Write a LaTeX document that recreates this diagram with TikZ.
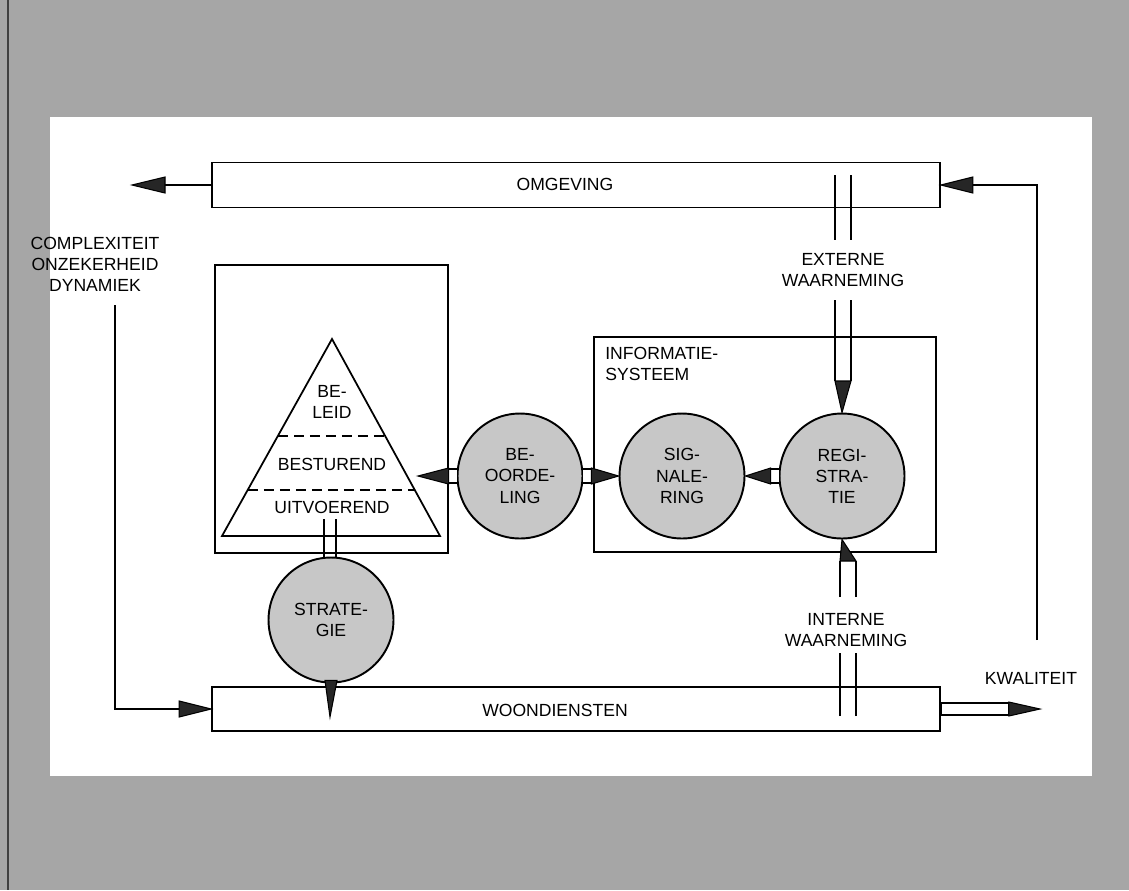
\documentclass[tikz,border=0pt]{standalone}
\usepackage{fontspec}
\setmainfont{Liberation Sans}
\usetikzlibrary{calc}
\begin{document}
\begin{tikzpicture}[x=0.02cm,y=-0.02cm,
  ln/.style={line width=1pt},
  box/.style={draw,line width=1pt,fill=white,rectangle,inner sep=0pt},
  disc/.style={circle,draw,line width=1.1pt,fill=black!22,minimum size=2.5cm,inner sep=0pt,align=center},
  lbl/.style={align=center,inner sep=0pt},
  head/.style={draw,line width=0.6pt,fill=black!85,line join=miter},
  shaft/.style={draw,line width=0.8pt,fill=white},
  twin/.style={line width=1.1pt},
  dashline/.style={line width=1.1pt,dash pattern=on 0.2cm off 0.12cm},
]
\useasboundingbox (0,0) rectangle (1129,890);
% frame
\fill[black!35] (0,0) rectangle (1129,890);
\draw[black!75,line width=1pt] (8,0) -- (8,890);
\fill[white] (50,117) rectangle (1092,776);

% boxes
\node[box,minimum width=14.56cm,minimum height=0.9cm] (omg) at (576,185) {};
\node[box,minimum width=14.56cm,minimum height=0.88cm] (woon) at (576,709) {};
\node[box,minimum width=4.66cm,minimum height=5.76cm] (mgmt) at (331.5,409) {};
\node[box,minimum width=6.84cm,minimum height=4.3cm] (info) at (765,444.5) {};

% pyramid
\coordinate (apex) at (332,339);
\coordinate (bl) at (222,536);
\coordinate (br) at (440,536);
\draw[ln,line join=miter] (apex) -- (br) -- (bl) -- cycle;
\draw[dashline] (278,436) -- (385,436);
\draw[dashline] (248,490) -- (414,490);

% labels
\node[lbl] (omgT) at (565,184) {OMGEVING};
\node[lbl] (woonT) at (555,710) {WOONDIENSTEN};
\node[lbl] (cplxT) at (95,264) {COMPLEXITEIT\\ONZEKERHEID\\DYNAMIEK};
\node[lbl] (extT) at (843,270) {EXTERNE\\WAARNEMING};
\node[lbl] (intT) at (846,630) {INTERNE\\WAARNEMING};
\node[lbl] (kwT) at (1031,678) {KWALITEIT};
\node[lbl,anchor=west,align=left] (infoT) at (605,364) {INFORMATIE-\\SYSTEEM};
\node[lbl] (beleid) at (332,402) {BE-\\LEID};
\node[lbl] (best) at (332,464) {BESTUREND};
\node[lbl] (uitv) at (332,507) {UITVOEREND};

% coordinates for free ends
\coordinate (ext1) at (843,175);
\coordinate (ext2) at (843,240);
\coordinate (ext3) at (843,300);
\coordinate (ext4) at (843,381);
\coordinate (int1) at (848,716);
\coordinate (int2) at (848,653);
\coordinate (int3) at (848,597);
\coordinate (int4) at (848,561);
\coordinate (triB) at (330,519);
\coordinate (strTop) at (330,562);
\coordinate (triR) at (418,476);
\coordinate (omgOut) at (132,185);
\coordinate (kwTop) at (1037,640);
\coordinate (cplx) at (115,305);
\coordinate (kwTip) at (1040,709);
\coordinate (woonIn) at (330,717);

% twin lines
\foreach \s in {-0.16cm,0.16cm}{
  \draw[twin] ([xshift=\s]ext1) -- ([xshift=\s]ext2);
  \draw[twin] ([xshift=\s]ext3) -- ([xshift=\s]ext4);
  \draw[twin] ([xshift=\s]int1) -- ([xshift=\s]int2);
  \draw[twin] ([xshift=\s]int3) -- ([xshift=\s]int4);
}
\foreach \s in {-0.12cm,0.12cm}{
  \draw[twin] ([xshift=\s]triB) -- ([xshift=\s]strTop);
}

% circles
\node[disc] (beo) at (520,476) {BE-\\OORDE-\\LING};
\node[disc] (sig) at (682,476) {SIG-\\NALE-\\RING};
\node[disc] (reg) at (842,476) {REGI-\\STRA-\\TIE};
\node[disc] (str) at (331,620) {STRATE-\\GIE};

% pipe arrows between circles
\draw[shaft] ($(beo.west)+(1,-7)$) rectangle ($(beo.west)+(-8,7)$);
\draw[head] ($(beo.west)+(-8,-8)$) -- ($(beo.west)+(-8,8)$) -- (triR) -- cycle;
\draw[shaft] ($(beo.east)+(-1,-7)$) rectangle ($(beo.east)+(8,7)$);
\draw[head] ($(beo.east)+(8,-8)$) -- ($(beo.east)+(8,8)$) -- (sig.west) -- cycle;
\draw[shaft] ($(reg.west)+(1,-7)$) rectangle ($(reg.west)+(-8,7)$);
\draw[head] ($(reg.west)+(-8,-8)$) -- ($(reg.west)+(-8,8)$) -- (sig.east) -- cycle;

% external / internal observation heads
\draw[head] ([xshift=-0.16cm]ext4) -- ([xshift=0.16cm]ext4) -- (reg.north) -- cycle;
\draw[head] ([xshift=-0.16cm]int4) -- ([xshift=0.16cm]int4) -- (reg.south) -- cycle;

% strategy wedge
\draw[head] ($(str.south)+(-6,-3)$) -- ($(str.south)+(6,-3)$) -- (woonIn) -- cycle;

% environment out arrow
\draw[ln] (omg.west) -- ($(omgOut)+(33,0)$);
\draw[head] ($(omgOut)+(33,-8)$) -- ($(omgOut)+(33,8)$) -- (omgOut) -- cycle;

% quality loop back to environment
\draw[ln] (kwTop) |- ($(omg.east)+(32,0)$);
\draw[head] ($(omg.east)+(32,-8)$) -- ($(omg.east)+(32,8)$) -- (omg.east) -- cycle;

% complexity loop into woondiensten
\draw[ln] (cplx) |- ($(woon.west)+(-32,0)$);
\draw[head] ($(woon.west)+(-32,-8)$) -- ($(woon.west)+(-32,8)$) -- (woon.west) -- cycle;

% quality output arrow
\draw[shaft] ($(woon.east)+(0,-6)$) rectangle ($(woon.east)+(68,6)$);
\draw[head] ($(woon.east)+(68,-7)$) -- ($(woon.east)+(68,7)$) -- (kwTip) -- cycle;
\end{tikzpicture}
\end{document}
